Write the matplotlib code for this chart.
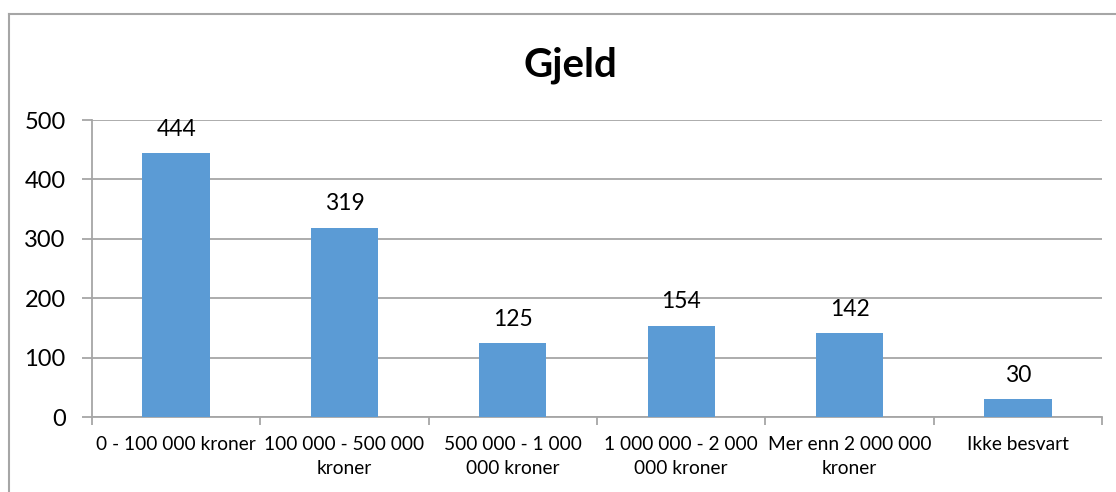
import numpy as np
import matplotlib.pyplot as plt
from matplotlib.lines import Line2D

plt.rcParams['font.family'] = ['Lato', 'DejaVu Sans']

kategorier = ['0 - 100 000 kroner', '100 000 - 500 000\nkroner', '500 000 - 1 000\n000 kroner',
              '1 000 000 - 2 000\n000 kroner', 'Mer enn 2 000 000\nkroner', 'Ikke besvart']
antall = [444, 319, 125, 154, 142, 30]

farge = '#5B9BD5'
grid = '#A6A6A6'

fig = plt.figure(figsize=(11.16, 4.92), dpi=100)
ax = fig.add_axes([0.0824, 0.1524, 0.9051, 0.6036])

x = np.arange(len(antall))
bars = ax.bar(x, antall, width=0.4, color=farge, zorder=3)
for xi, v in zip(x, antall):
    ax.text(xi, v + 22, str(v), ha='center', va='bottom', fontsize=16.5, color='black')

ax.set_xlim(-0.5, len(antall) - 0.5)
ax.set_ylim(0, 500)
ax.set_yticks(range(0, 501, 100))
ax.yaxis.grid(True, color=grid, linewidth=1.3, zorder=0)
ax.tick_params(axis='y', length=7, width=1.3, color=grid, pad=12, labelsize=17)

ax.set_xticks(x)
ax.set_xticklabels(kategorier, fontsize=13.8, linespacing=1.45)
ax.tick_params(axis='x', which='major', length=0, pad=14)
ax.set_xticks(np.arange(-0.5, len(antall)), minor=True)
ax.tick_params(axis='x', which='minor', length=6, width=1.3, color=grid)

for s in ['top', 'right']:
    ax.spines[s].set_visible(False)
for s in ['left', 'bottom']:
    ax.spines[s].set_color(grid)
    ax.spines[s].set_linewidth(1.3)

fig.text(0.511, 0.868, 'Gjeld', ha='center', va='center', fontsize=29, fontweight='bold')

# ramme rundt diagrammet
fig.add_artist(Line2D([9 / 1116, 1.0], [1 - 14 / 492, 1 - 14 / 492], color='#A6A6A6', lw=1.5))
fig.add_artist(Line2D([9 / 1116, 9 / 1116], [0, 1 - 14 / 492], color='#A6A6A6', lw=1.5))

plt.savefig('out.png')
plt.close()
